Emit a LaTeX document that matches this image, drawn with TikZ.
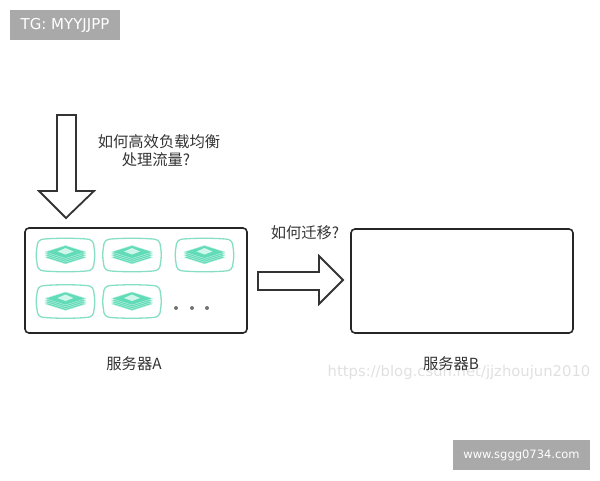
\documentclass[tikz,border=0pt]{standalone}
\usepackage{fontspec}
\setmainfont{Noto Sans CJK SC}
\newfontfamily\latinfont{DejaVu Sans}
\definecolor{podgreen}{HTML}{86DEC4}
\definecolor{layergreen}{HTML}{62DCB8}
\definecolor{markgray}{HTML}{A9A9A9}
\tikzset{
  serverbox/.style={draw=black!85,line width=1.6pt,rounded corners=4pt},
  bigarrow/.style={draw=black!80,line width=1.8pt,fill=white,line join=miter},
  caption/.style={font=\fontsize{15.3}{18}\selectfont,text=black!80,inner sep=0pt,align=center},
  markbox/.style={fill=markgray,text=white,inner sep=0pt,font=\latinfont\fontsize{11.5}{13}\selectfont}
}
\begin{document}
\begin{tikzpicture}
  [x=1pt,y=-1pt]
  \useasboundingbox (0,0) rectangle (600,480);
  \node[markbox,minimum width=110pt,minimum height=30pt,font=\latinfont\fontsize{15}{17}\selectfont] (tgmark) at (65,25) {TG: MYYJJPP};
  \node[markbox,minimum width=137pt,minimum height=30pt] (sitemark) at (521.5,455) {www.sggg0734.com};
  \node[font=\latinfont\fontsize{14.8}{17}\selectfont,text=black!12,inner sep=0pt] (blogmark) at (459,372) {https://blog.csdn.net/jjzhoujun2010};
  \draw[serverbox] (25,228) rectangle (247,333);
  \draw[serverbox] (351,229) rectangle (573,333);
  \draw[bigarrow] (57,115) -- (76,115) -- (76,191) -- (94,191) -- (66,218) -- (39,191) -- (57,191) -- cycle;
  \draw[bigarrow] (258,272) -- (319,272) -- (319,256) -- (343,280) -- (319,304) -- (319,290) -- (258,290) -- cycle;
  \foreach \x/\y in {65.5/255,132/255,204.5/255,65.5/301.5,132/301.5}
  {
    \begin{scope}[shift={(\x,\y)}]
      \draw[podgreen,line width=1.3pt] (-21,-16) .. controls (-8,-17) and (8,-17) .. (21,-16)
        .. controls (26,-16) and (28.5,-13) .. (28.5,-8) .. controls (29.5,-3) and (29.5,3) .. (28.5,8)
        .. controls (28.5,13) and (26,16) .. (21,16) .. controls (8,17) and (-8,17) .. (-21,16)
        .. controls (-26,16) and (-28.5,13) .. (-28.5,8) .. controls (-29.5,3) and (-29.5,-3) .. (-28.5,-8)
        .. controls (-28.5,-13) and (-26,-16) .. (-21,-16) -- cycle;
      \foreach \d in {2.4,0.6,-1.2,-3}
        \draw[fill=layergreen,draw=white!60!layergreen,line width=0.4pt] (-20.5,\d) -- (0,\d-6.5) -- (20.5,\d) -- (0,\d+6.5) -- cycle;
      \fill[white!70!layergreen] (-8,-3.5) -- (0,-7) -- (8,-3.5) -- (0,-0.5) -- cycle;
    \end{scope}
  }
  \foreach \x in {176,192,207}
    \fill[black!55] (\x,308) circle (2pt);
  \node[caption] (questionlabel) at (159,151) {如何高效负载均衡\\处理流量?\hspace*{6pt}};
  \node[caption] (movelabel) at (305,233) {如何迁移?};
  \node[caption] (serveralabel) at (134,364) {服务器A};
  \node[caption] (serverblabel) at (451,364) {服务器B};
\end{tikzpicture}
\end{document}
